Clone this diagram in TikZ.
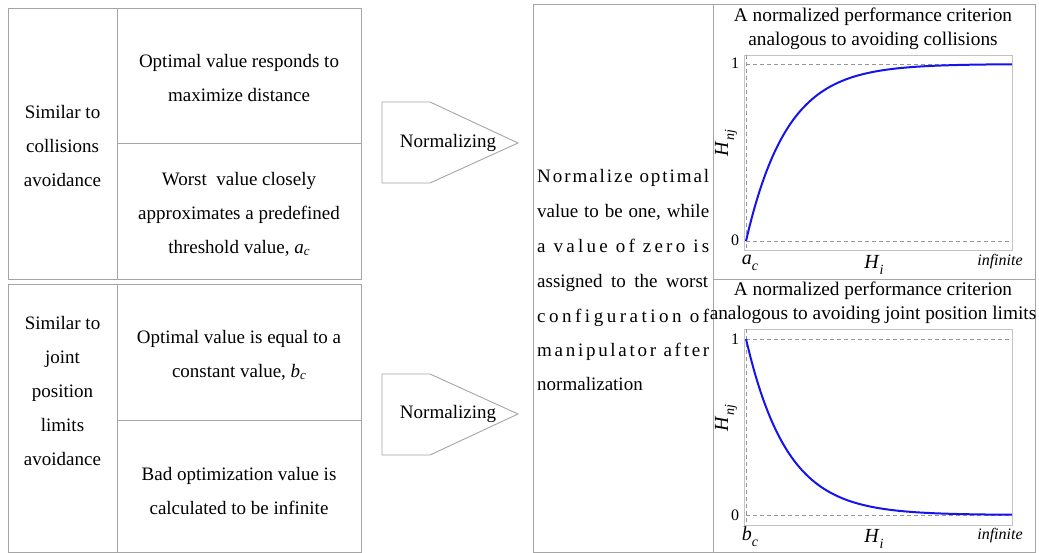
\documentclass[tikz,border=0pt]{standalone}
\usepackage{fontspec}
\setmainfont{Liberation Serif}
\definecolor{lgray}{RGB}{165,165,165}
\definecolor{fgray}{RGB}{195,195,195}
\definecolor{dgray}{RGB}{150,150,150}
\definecolor{cblue}{RGB}{20,20,235}
\def\LS#1{\LSa#1\relax}
\def\LSa#1{#1\LSb}
\def\LSb#1{\ifx#1\relax\else\hfil#1\expandafter\LSb\fi}
\newcommand\isub[4]{\textit{#1}\raisebox{-#3}{\fontsize{#4}{#4}\selectfont\textit{#2}}}
\begin{document}
\begin{tikzpicture}[x=1pt,y=-1pt]
\tikzset{
  grid/.style={draw=lgray, line width=0.9pt},
  frame/.style={draw=fgray, line width=0.9pt},
  dashline/.style={draw=dgray, line width=0.7pt, dash pattern=on 4pt off 3pt},
  curve/.style={draw=cblue, line width=2pt},
  txt/.style={font=\fontsize{19}{34}\selectfont, align=center, inner sep=0pt},
  ttl/.style={font=\fontsize{19.3}{24}\selectfont, inner sep=0pt},
  tick/.style={font=\fontsize{16}{16}\selectfont, inner sep=0pt},
  axl/.style={font=\fontsize{20}{20}\selectfont, inner sep=0pt},
  inf/.style={font=\fontsize{16}{16}\selectfont\itshape, inner sep=0pt},
  mid/.style={font=\fontsize{19}{19}\selectfont, inner sep=0pt, anchor=west, text height=13pt, text depth=4pt},
  normtxt/.style={font=\fontsize{19}{19}\selectfont, inner sep=0pt}
}
\useasboundingbox (0,0) rectangle (1039,553);
% left tables
\draw[grid] (8,8) rectangle (361,279);
\draw[grid] (117,8) -- (117,279);
\draw[grid] (117,143) -- (361,143);
\draw[grid] (8,284) rectangle (361,552);
\draw[grid] (117,284) -- (117,552);
\draw[grid] (117,420) -- (361,420);
\node[txt] (c1) at (62.5,146) {Similar to\\collisions\\avoidance};
\node[txt] (c1a) at (239,78) {Optimal value responds to\\maximize distance};
\node[txt] (c1b) at (239,214) {Worst\ \ value closely\\approximates a predefined\\threshold value, \isub{a}{c}{2pt}{13}};
\node[txt] (c2) at (62.5,391) {Similar to\\joint\\position\\limits\\avoidance};
\node[txt] (c2a) at (239,355) {Optimal value is equal to a\\constant value, \isub{b}{c}{2pt}{13}};
\node[txt] (c2b) at (239,491) {Bad optimization value is\\calculated to be infinite};
% normalizing shapes
\draw[grid] (382,102) -- (430,102) -- (518,143) -- (430,183) -- (382,183) -- cycle;
\node[normtxt] (n1) at (448,143) {Normalizing};
\draw[grid] (382,374) -- (430,374) -- (518,414) -- (430,455) -- (382,455) -- cycle;
\node[normtxt] (n2) at (448,414) {Normalizing};
% middle and right boxes
\draw[grid] (533,4) rectangle (713,552);
\draw[grid] (713,4) rectangle (1035,552);
\draw[grid] (713,279) -- (1035,279);
\node[mid] (m1) at (537,178) {\makebox[172pt][s]{\LS{Normalize}\hfil\ \LS{optimal}}};
\node[mid] (m2) at (537,213) {\makebox[172pt][s]{value to be one, while}};
\node[mid] (m3) at (537,248) {\makebox[172pt][s]{\LS{a}\hfil\ \LS{value}\hfil\ \LS{of}\hfil\ \LS{zero}\hfil\ \LS{is}}};
\node[mid] (m4) at (537,283) {\makebox[171pt][s]{assigned to the worst}};
\node[mid] (m5) at (537,318) {\makebox[172pt][s]{\LS{configuration}\hfil\ \LS{of}}};
\node[mid] (m6) at (537,352) {\makebox[172pt][s]{\LS{manipulator}\hfil\ \LS{after}}};
\node[mid] (m7) at (537,386) {normalization};
% plot 1
\node[ttl] (t1a) at (873,17) {A normalized performance criterion};
\node[ttl] (t1b) at (873,41) {analogous to avoiding collisions};
\draw[frame] (744,55) rectangle (1012,250);
\draw[dashline] (746,64) -- (1012,64);
\draw[dashline] (746,241) -- (1012,241);
\draw[dashline] (746,55) -- (746,250);
\draw[curve] plot[domain=0:1,samples=90,smooth] ({746+266*\x},{241-177*(1-exp(-6.5*\x))});
\node[tick] (y11) at (735,63) {1};
\node[tick] (y10) at (735,240) {0};
\node[axl] (x1a) at (750,263) {\isub{a}{c}{6pt}{14}};
\node[axl] (x1h) at (874,265) {\isub{H}{i}{6pt}{14}};
\node[inf] (x1i) at (1000,262) {infinite};
\node[axl, rotate=90] (y1h) at (726,143) {\isub{H}{nj}{6pt}{14}};
% plot 2
\node[ttl] (t2a) at (873,291) {A normalized performance criterion};
\node[ttl] (t2b) at (873,315) {analogous to avoiding joint position limits};
\draw[frame] (744,329) rectangle (1012,525);
\draw[dashline] (746,339) -- (1012,339);
\draw[dashline] (746,515) -- (1012,515);
\draw[dashline] (746,329) -- (746,525);
\draw[curve] plot[domain=0:1,samples=90,smooth] ({746+266*\x},{515-176*exp(-6.5*\x)});
\node[tick] (y21) at (735,339) {1};
\node[tick] (y20) at (735,515) {0};
\node[axl] (x2b) at (750,537) {\isub{b}{c}{6pt}{14}};
\node[axl] (x2h) at (874,539) {\isub{H}{i}{6pt}{14}};
\node[inf] (x2i) at (1000,536) {infinite};
\node[axl, rotate=90] (y2h) at (726,418) {\isub{H}{nj}{6pt}{14}};
\end{tikzpicture}
\end{document}
